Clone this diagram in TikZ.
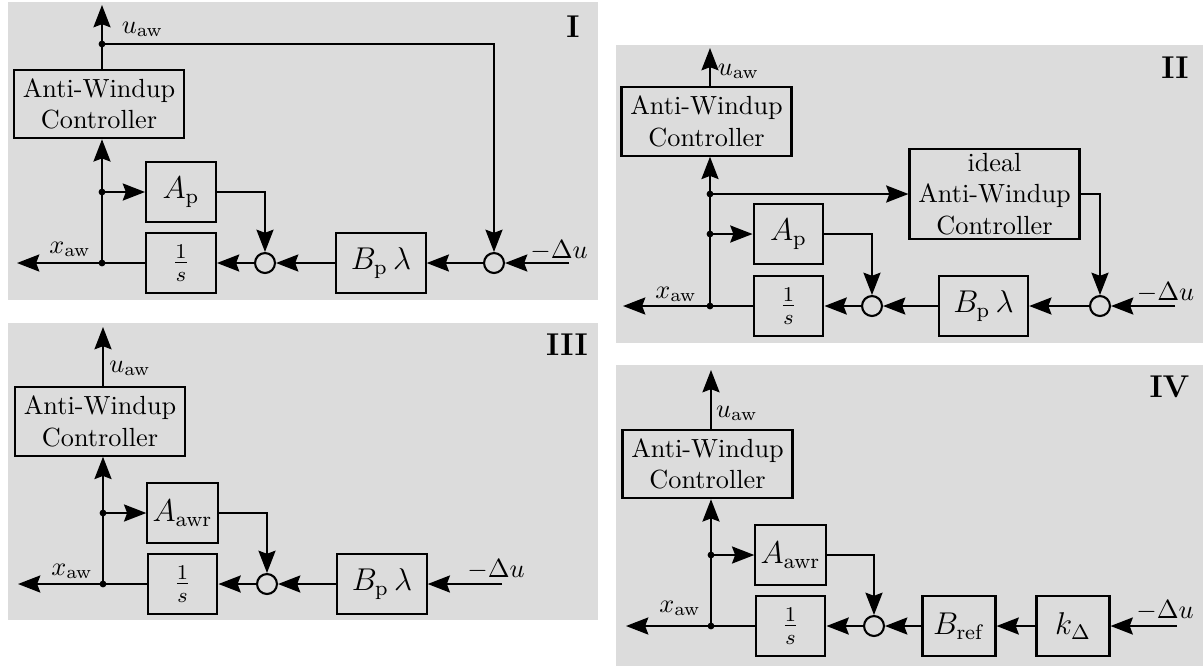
\documentclass[tikz,border=0pt]{standalone}
\usepackage{amsmath}
\definecolor{panelgray}{HTML}{DCDCDC}
\usetikzlibrary{arrows.meta}

\begin{document}
\begin{tikzpicture}[x=0.381pt, y=-0.381pt, thick,
   >={Stealth[length=8.5pt, width=6.5pt, inset=1.2pt]},
   block/.style={draw, minimum width=26.6pt, minimum height=22.8pt, inner xsep=2pt, font=\large},
   awbox/.style={draw, align=center},
   sumpt/.style={draw, circle, minimum size=7.6pt, inner sep=0pt},
   tag/.style={font=\large\bfseries}]
   \useasboundingbox (0,0) rectangle (1203,666);

   % Panel I
   \fill[panelgray] (8,2) rectangle (598,300);
   \node[tag] (tagI) at (573,27) {I};
   \node[awbox] (aw1) at (99,104) {Anti-Windup\\Controller};
   \node[block] (ap1) at (181,192) {$A_\mathrm{p}$};
   \node[block] (int1) at (181,263) {$\frac{1}{s}$};
   \node[sumpt] (sa1) at (265,263) {};
   \node[block, minimum width=34pt] (bp1) at (381,263) {$B_\mathrm{p}\,\lambda$};
   \node[sumpt] (sb1) at (494,263) {};
   \coordinate (in1) at (569,263);
   \coordinate (out1) at (17,263);
   \coordinate (top1) at (102,5);
   \coordinate (ja1) at (102,44);
   \coordinate (jb1) at (102,192);
   \coordinate (jc1) at (102,263);
   \node[anchor=base west] (uaw1) at (112,33) {$u_\mathrm{aw}$};
   \node[anchor=base] (xaw1) at (70,253) {$x_\mathrm{aw}$};
   \node[anchor=base] (du1) at (559,258) {$-\Delta u$};
   \draw[->] (in1) -- (sb1);
   \draw[->] (sb1) -- (bp1);
   \draw[->] (bp1) -- (sa1);
   \draw[->] (sa1) -- (int1);
   \draw[->] (int1) -- (out1);
   \draw[->] (jc1) -- (aw1.south -| jc1);
   \draw[->] (jb1) -- (ap1);
   \draw[->] (ap1) -| (sa1);
   \draw[->] (aw1.north -| top1) -- (top1);
   \draw[->] (ja1) -| (sb1);
   \fill (ja1) circle (1.3pt) (jb1) circle (1.3pt) (jc1) circle (1.3pt);

   % Panel II
   \fill[panelgray] (616,45) rectangle (1203,343);
   \node[tag] (tagII) at (1175,68) {II};
   \node[awbox] (aw2) at (706.5,121.5) {Anti-Windup\\Controller};
   \node[awbox, inner ysep=1.5pt] (iaw2) at (994.5,194) {ideal\\Anti-Windup\\Controller};
   \node[block] (ap2) at (788.5,234) {$A_\mathrm{p}$};
   \node[block] (int2) at (788.5,306) {$\frac{1}{s}$};
   \node[sumpt] (sa2) at (872,306) {};
   \node[block, minimum width=34pt] (bp2) at (983.5,306) {$B_\mathrm{p}\,\lambda$};
   \node[sumpt] (sb2) at (1100,306) {};
   \coordinate (in2) at (1175,306);
   \coordinate (out2) at (623,306);
   \coordinate (top2) at (710,48);
   \coordinate (ja2) at (710,194);
   \coordinate (jb2) at (710,234);
   \coordinate (jc2) at (710,306);
   \node[anchor=base west] (uaw2) at (708,75) {$u_\mathrm{aw}$};
   \node[anchor=base] (xaw2) at (676,298) {$x_\mathrm{aw}$};
   \node[anchor=base] (du2) at (1165.5,300) {$-\Delta u$};
   \draw[->] (in2) -- (sb2);
   \draw[->] (sb2) -- (bp2);
   \draw[->] (bp2) -- (sa2);
   \draw[->] (sa2) -- (int2);
   \draw[->] (int2) -- (out2);
   \draw[->] (jc2) -- (aw2.south -| jc2);
   \draw[->] (jb2) -- (ap2);
   \draw[->] (ap2) -| (sa2);
   \draw[->] (ja2) -- (iaw2);
   \draw[->] (iaw2) -| (sb2);
   \draw[->] (aw2.north -| top2) -- (top2);
   \fill (ja2) circle (1.3pt) (jb2) circle (1.3pt) (jc2) circle (1.3pt);

   % Panel III
   \fill[panelgray] (8,323) rectangle (598,620);
   \node[tag] (tagIII) at (567,345) {III};
   \node[awbox] (aw3) at (100,421.5) {Anti-Windup\\Controller};
   \node[block] (aa3) at (182.5,513) {$A_\mathrm{awr}$};
   \node[block] (int3) at (182.5,584) {$\frac{1}{s}$};
   \node[sumpt] (sa3) at (267,584) {};
   \node[block, minimum width=34pt] (bp3) at (382,584) {$B_\mathrm{p}\,\lambda$};
   \coordinate (in3) at (502,584);
   \coordinate (out3) at (18,584);
   \coordinate (top3) at (103,327);
   \coordinate (jb3) at (103,513);
   \coordinate (jc3) at (103,584);
   \node[anchor=base west] (uaw3) at (99.5,372) {$u_\mathrm{aw}$};
   \node[anchor=base] (xaw3) at (72,575) {$x_\mathrm{aw}$};
   \node[anchor=base] (du3) at (496,577) {$-\Delta u$};
   \draw[->] (in3) -- (bp3);
   \draw[->] (bp3) -- (sa3);
   \draw[->] (sa3) -- (int3);
   \draw[->] (int3) -- (out3);
   \draw[->] (jc3) -- (aw3.south -| jc3);
   \draw[->] (jb3) -- (aa3);
   \draw[->] (aa3) -| (sa3);
   \draw[->] (aw3.north -| top3) -- (top3);
   \fill (jb3) circle (1.3pt) (jc3) circle (1.3pt);

   % Panel IV
   \fill[panelgray] (616,365) rectangle (1203,666);
   \node[tag] (tagIV) at (1169.5,387) {IV};
   \node[awbox] (aw4) at (707.5,464) {Anti-Windup\\Controller};
   \node[block] (aa4) at (790.5,555) {$A_\mathrm{awr}$};
   \node[block] (int4) at (790.5,626) {$\frac{1}{s}$};
   \node[sumpt] (sa4) at (874,626) {};
   \node[block, minimum width=27.8pt] (bref4) at (959,626) {$B_\mathrm{ref}$};
   \node[block, minimum width=27.8pt] (kd4) at (1073,626) {$k_\Delta$};
   \coordinate (in4) at (1177,626);
   \coordinate (out4) at (626,626);
   \coordinate (top4) at (711,370);
   \coordinate (jb4) at (711,555);
   \coordinate (jc4) at (711,626);
   \node[anchor=base west] (uaw4) at (706.3,417) {$u_\mathrm{aw}$};
   \node[anchor=base] (xaw4) at (680,612) {$x_\mathrm{aw}$};
   \node[anchor=base] (du4) at (1165,618) {$-\Delta u$};
   \draw[->] (in4) -- (kd4);
   \draw[->] (kd4) -- (bref4);
   \draw[->] (bref4) -- (sa4);
   \draw[->] (sa4) -- (int4);
   \draw[->] (int4) -- (out4);
   \draw[->] (jc4) -- (aw4.south -| jc4);
   \draw[->] (jb4) -- (aa4);
   \draw[->] (aa4) -| (sa4);
   \draw[->] (aw4.north -| top4) -- (top4);
   \fill (jb4) circle (1.3pt) (jc4) circle (1.3pt);
\end{tikzpicture}
\end{document}
